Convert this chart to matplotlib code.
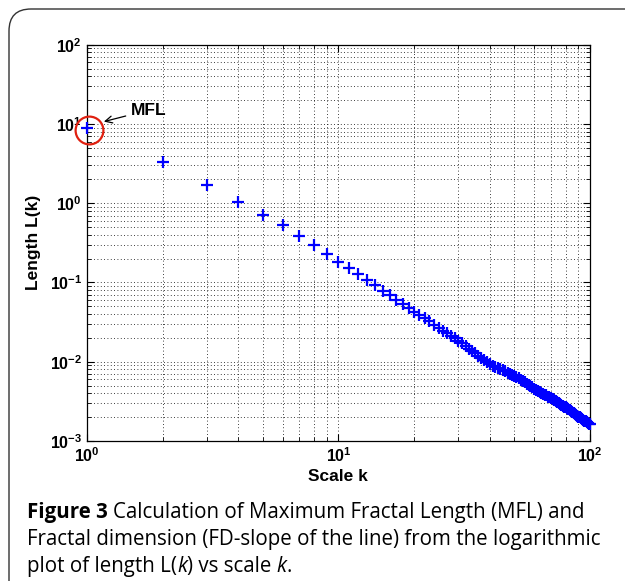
import math
import matplotlib
matplotlib.use("Agg")
import matplotlib.pyplot as plt
from matplotlib.patches import FancyBboxPatch
from matplotlib.transforms import IdentityTransform
from matplotlib.ticker import LogLocator, FuncFormatter, NullFormatter

plt.rcParams["mathtext.fontset"] = "custom"
plt.rcParams["mathtext.rm"] = "Liberation Sans:bold"
plt.rcParams["mathtext.bf"] = "Liberation Sans:bold"

# scale k = 1..100
scale_k = list(range(1, 101))

# length L(k)
length_L = [
    8.8, 3.29, 1.71, 1.03, 0.72, 0.526, 0.389, 0.297, 0.231, 0.182,
    0.151, 0.129, 0.109, 0.092, 0.079, 0.0686, 0.060, 0.0535, 0.048, 0.043,
    0.0392, 0.0352, 0.0322, 0.0292, 0.0270, 0.0246, 0.0229, 0.0210, 0.0197, 0.0181,
    0.0170, 0.0156, 0.0146, 0.0135, 0.0128, 0.0118, 0.0112, 0.0104, 0.0099, 0.0093,
    0.00895, 0.00865, 0.00836, 0.00807, 0.00781, 0.00755, 0.00731, 0.00710, 0.00689, 0.00667,
    0.00638, 0.00615, 0.00592, 0.00570, 0.00548, 0.00528, 0.00508, 0.00491, 0.00473, 0.00457,
    0.00444, 0.00431, 0.00419, 0.00407, 0.00396, 0.00384, 0.00375, 0.00364, 0.00355, 0.00346,
    0.00337, 0.00327, 0.00318, 0.00310, 0.00301, 0.00293, 0.00286, 0.00279, 0.00271, 0.00265,
    0.00258, 0.00250, 0.00244, 0.00237, 0.00231, 0.00225, 0.00218, 0.00213, 0.00208, 0.00202,
    0.00198, 0.00193, 0.00189, 0.00185, 0.00180, 0.00177, 0.00173, 0.00169, 0.00165, 0.00162,
]

fig = plt.figure(figsize=(6.25, 5.81), dpi=100)
fig.patch.set_facecolor("white")

# rounded frame of the figure panel (runs off the right and bottom edges)
frame = FancyBboxPatch((9, -30), 660, 602, boxstyle="round,pad=0,rounding_size=22",
                       transform=IdentityTransform(), fill=False,
                       edgecolor="#333333", linewidth=1.0)
fig.patches.append(frame)

ax = fig.add_axes([0.139, 0.241, 0.805, 0.682])
ax.plot(scale_k, length_L, linestyle="none", marker="+", color="#0000ff",
        markersize=8, markeredgewidth=1.6, zorder=3, clip_on=False)

ax.set_xscale("log")
ax.set_yscale("log")
ax.set_xlim(1, 100)
ax.set_ylim(1e-3, 1e2)


def pow_label(v, pos):
    return r"$\mathbf{10^{%d}}$" % round(math.log10(v))


for axis in (ax.xaxis, ax.yaxis):
    axis.set_major_locator(LogLocator(base=10))
    axis.set_minor_locator(LogLocator(base=10, subs=range(2, 10)))
    axis.set_minor_formatter(NullFormatter())
    axis.set_major_formatter(FuncFormatter(pow_label))

ax.grid(True, which="both", color="black", linestyle=(0, (1, 3)), linewidth=0.6)
ax.tick_params(which="both", direction="in", top=True, right=True, labelsize=11.5)
ax.tick_params(which="major", length=5)
ax.tick_params(which="minor", length=3)
for s in ax.spines.values():
    s.set_linewidth(0.9)

ax.set_xlabel("Scale k", fontsize=12.5, fontweight="bold", family="Liberation Sans", labelpad=3)
ax.set_ylabel("Length L(k)", fontsize=12.5, fontweight="bold", family="Liberation Sans", labelpad=6)

# MFL marker: red circle + arrow
ax.plot([1.015], [8.4], marker="o", markersize=20, markerfacecolor="none",
        markeredgecolor="#e02010", markeredgewidth=1.6, clip_on=False, zorder=4)
ax.annotate("MFL", xy=(1.14, 10.5), xytext=(1.5, 15.0), fontsize=12.5,
            fontweight="bold", family="Liberation Sans", ha="left", va="center",
            arrowprops=dict(arrowstyle="->", color="black", lw=0.9))

# caption
renderer = fig.canvas.get_renderer()


def caption_line(parts, y_px, x_px=27, size=14.8):
    x = x_px
    for txt, weight, style in parts:
        t = fig.text(x / 625, 1 - y_px / 581, txt, fontsize=size, family="Open Sans",
                     fontweight=weight, fontstyle=style, ha="left", va="baseline")
        bb = t.get_window_extent(renderer=renderer)
        x += bb.width


caption_line([("Figure 3 ", "bold", "normal"),
              ("Calculation of Maximum Fractal Length (MFL) and", "normal", "normal")], 518)
caption_line([("Fractal dimension (FD-slope of the line) from the logarithmic", "normal", "normal")], 545)
caption_line([("plot of length L(", "normal", "normal"), ("k", "normal", "italic"),
              (") vs scale ", "normal", "normal"), ("k", "normal", "italic"),
              (".", "normal", "normal")], 572)

fig.savefig("out.png", dpi=100)
